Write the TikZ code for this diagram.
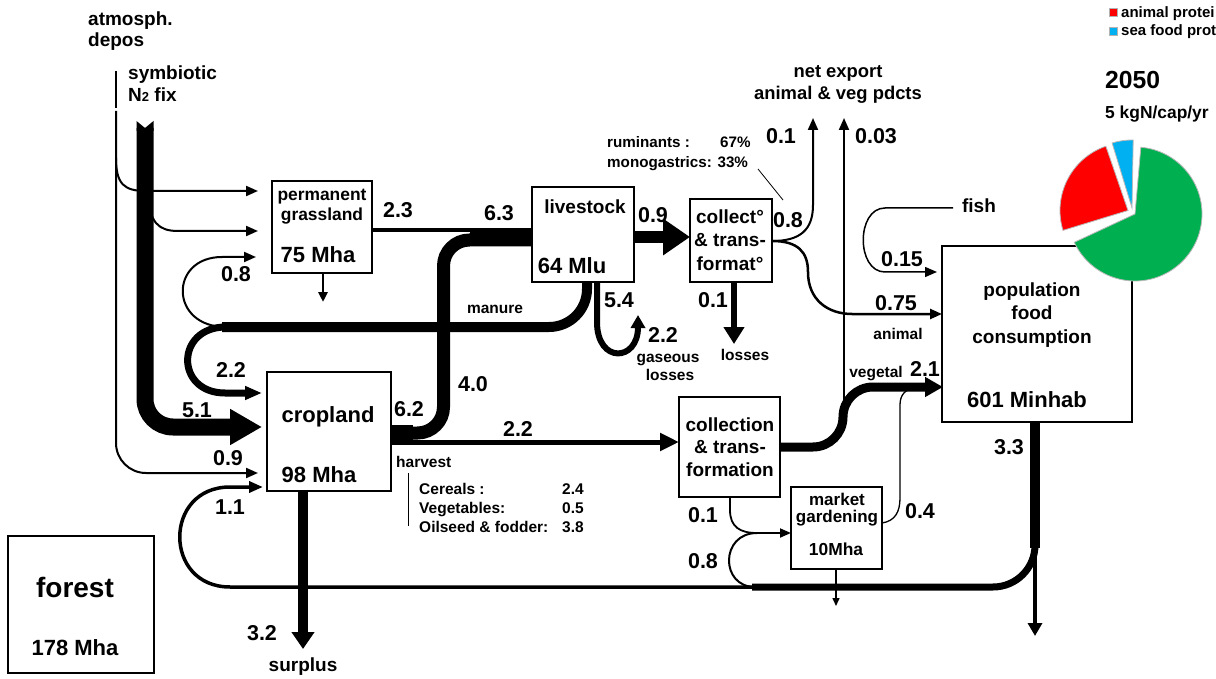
\documentclass[tikz,border=0pt]{standalone}
\usepackage{fontspec}
\setmainfont{Liberation Sans}
\usetikzlibrary{arrows.meta}
\newcommand\myNum{\fontsize{21.5}{24}\selectfont\bfseries}
\newcommand\myTxt{\fontsize{19}{21}\selectfont\bfseries}
\newcommand\myMid{\fontsize{17.4}{19}\selectfont\bfseries}
\newcommand\mySm{\fontsize{15.5}{18}\selectfont\bfseries}
\newcommand\myBig{\fontsize{22}{25}\selectfont\bfseries}
\definecolor{pieG}{RGB}{0,176,80}
\definecolor{pieR}{RGB}{255,0,0}
\definecolor{pieB}{RGB}{0,176,240}
\begin{document}
\begin{tikzpicture}[x=1pt,y=-1pt,
  boxnode/.style={draw, line width=2.2pt, fill=white, inner sep=0pt, outer sep=0pt},
  numlbl/.style={font=\myNum, inner sep=0pt, anchor=base},
  txtlbl/.style={font=\myTxt, inner sep=0pt, anchor=base},
  midlbl/.style={font=\myMid, inner sep=0pt, anchor=base},
  smlbl/.style={font=\mySm, inner sep=0pt, anchor=base},
  biglbl/.style={font=\myBig, inner sep=0pt, anchor=base},
  thinln/.style={line width=2pt},
  arrS/.style={-{Triangle[length=12pt,width=10pt]}},
]
\useasboundingbox (0,0) rectangle (1216,679);
\clip (0,0) rectangle (1216,679);

% ---------- named points ----------
\coordinate (atmTop) at (116,71);
\coordinate (atmBrk) at (116,108);
\coordinate (atmStart) at (116,111);
\coordinate (grIn1) at (258,191);
\coordinate (grIn2) at (258,231);
\coordinate (crIn09) at (258,473);
\coordinate (exp1) at (813,118);
\coordinate (exp2) at (844,118);
\coordinate (fishEnd) at (953,208);

% ---------- connectors ----------
% atmospheric deposition
\draw[thinln] (atmTop) -- (atmBrk);
\draw[thinln, arrS, rounded corners=30pt] (atmStart) -- (116,473) -- (crIn09);
\draw[thinln, arrS] (116,158) .. controls (116,184) and (124,191) .. (146,191) -- (grIn1);
% symbiotic branch to grassland
\draw[thinln, arrS] (148,196) .. controls (150,222) and (158,231) .. (178,231) -- (grIn2);
% symbiotic main band -> cropland 5.1
\draw[line width=17pt, rounded corners=28pt, -{Triangle[length=32pt,width=34pt]}] (145,128) -- (145,427) -- (262,427);
\fill (136.5,121) -- (145,128) -- (153.5,121) -- (153.5,131) -- (136.5,131) -- cycle;

% grassland -> livestock 2.3
\draw[line width=4.5pt] (372,230) -- (532,230);
% cropland -> livestock 4.0
\draw[line width=13pt, rounded corners=26pt] (391,433) -- (443.5,433) -- (443.5,240) -- (532,240);
\fill (391,425) rectangle (413,445);
\fill (470,228) rectangle (532,246.5);
% cropland -> collection 2.2
\draw[line width=5pt, -{Triangle[length=19pt,width=17pt]}] (400,442) -- (679,442);

% manure
\draw[line width=10pt, rounded corners=38pt] (587,282) -- (587,327) -- (222,327);
\draw[line width=7pt, -{Triangle[length=17pt,width=13pt]}] (226,327) .. controls (175,327) and (175,393) .. (225,393) -- (262,393);
\draw[thinln, arrS] (226,327) .. controls (169,327) and (169,257) .. (222,257) -- (256,257);

% livestock -> collect 0.9
\draw[line width=12pt, -{Triangle[length=27pt,width=35pt]}] (634,237) -- (690,237);
% gaseous losses loop
\draw[line width=6pt, -{Triangle[length=13pt,width=14pt]}] (597,282) -- (597,322) .. controls (597,364) and (638,362) .. (638,315);
% collect -> losses
\draw[line width=6pt, -{Triangle[length=17pt,width=20pt]}] (734,282) -- (734,344);
% collect split
\draw[thinln, arrS] (772,241) .. controls (800,241) and (813,230) .. (813,205) -- (exp1);
\draw[line width=2.5pt, arrS] (772,241) .. controls (798,241) and (808,252) .. (808,272) .. controls (808,300) and (828,314) .. (852,314) -- (942,314);
% 0.03 export
\draw[thinln, arrS] (844,410) -- (exp2);
% fish
\draw[line width=1.5pt, arrS] (fishEnd) -- (885,208) .. controls (856,208) and (856,272) .. (885,272) -- (937,272);
% vegetal
\draw[line width=9pt, rounded corners=30pt, -{Triangle[length=18pt,width=19pt]}] (780,447) -- (843,447) -- (843,387) -- (943,387);
% market gardening 0.4
\draw[line width=1.3pt] (882,523) .. controls (895,521) and (900,512) .. (900,498) -- (900,405) .. controls (900,395) and (905,388) .. (918,388);
% collection -> market gardening 0.1
\draw[line width=1.8pt, -{Triangle[length=11pt,width=9pt]}] (730,497) -- (730,510) .. controls (730,527) and (740,533) .. (757,533) -- (791,533);
% 0.8 loop to market gardening
\draw[line width=2pt] (755,587) .. controls (720,587) and (720,533) .. (757,533);
% market gardening down
\draw[line width=1.5pt, -{Triangle[length=8pt,width=7pt]}] (836,569) -- (836,606);
% population outputs
\draw[line width=4pt, -{Triangle[length=13pt,width=14pt]}] (1035,540) -- (1035,636);
\draw[line width=7pt, rounded corners=42pt] (1035,500) -- (1035,587) -- (752,587);
\draw[line width=10pt] (1035,422) -- (1035,548);
\draw[line width=3.5pt, -{Triangle[length=14pt,width=11pt]}] (756,587) -- (230,587) .. controls (163,587) and (163,487) .. (230,487) -- (263,487);
% cropland surplus
\draw[line width=10pt, -{Triangle[length=17pt,width=22pt]}] (303,491) -- (303,649);
% grassland down
\draw[line width=2.5pt, -{Triangle[length=10pt,width=9pt]}] (323,273) -- (323,302);
% pointer lines
\draw[line width=0.8pt] (758,169) -- (783,200);
\draw[line width=0.8pt] (408,473) -- (408,526);

% ---------- boxes ----------
\node[boxnode, minimum width=100pt, minimum height=92pt] (grass) at (322,227) {};
\node[boxnode, minimum width=124pt, minimum height=119pt] (crop) at (329,431.5) {};
\node[boxnode, minimum width=102pt, minimum height=95pt] (live) at (583,234.5) {};
\node[boxnode, minimum width=82pt, minimum height=83pt] (collA) at (731,240.5) {};
\node[boxnode, minimum width=101pt, minimum height=100pt] (collB) at (729.5,447) {};
\node[boxnode, minimum width=91pt, minimum height=82pt] (market) at (836.5,528) {};
\node[boxnode, minimum width=190pt, minimum height=176pt] (pop) at (1037,334) {};
\node[boxnode, line width=2.6pt, minimum width=146pt, minimum height=137pt] (forest) at (81,604.5) {};

% ---------- pie ----------
\begin{scope}[shift={(1135,214)}, yscale=-1]
  \filldraw[fill=pieG, draw=gray!55, line width=0.8pt] (0,0) -- (85:67) arc[start angle=85, end angle=-155, radius=67] -- cycle;
  \filldraw[fill=pieB, draw=gray!55, line width=0.8pt, shift={(-3,6)}] (0,0) -- (89:68) arc[start angle=89, end angle=107, radius=68] -- cycle;
  \filldraw[fill=pieR, draw=gray!55, line width=0.8pt, shift={(-7,3.5)}] (0,0) -- (109:68) arc[start angle=109, end angle=197, radius=68] -- cycle;
\end{scope}
% legend
\filldraw[fill=pieR, draw=gray!60, line width=0.5pt] (1109,8.5) rectangle (1117,16.5);
\filldraw[fill=pieB, draw=gray!60, line width=0.5pt] (1109,27) rectangle (1117,35);
\node[smlbl, anchor=base west, font=\fontsize{15}{17}\selectfont\bfseries] (legA) at (1121,18) {animal protei};
\node[smlbl, anchor=base west, font=\fontsize{15}{17}\selectfont\bfseries] (legB) at (1121,36) {sea food prot};
\node[anchor=base west, inner sep=0pt, font=\fontsize{24.7}{27}\selectfont\bfseries] (yr) at (1105,89) {2050};
\node[midlbl, anchor=base west] (kgn) at (1105,119) {5 kgN/cap/yr};

% ---------- box texts ----------
\node[midlbl] (tPerm) at (322,201) {permanent};
\node[midlbl] (tGrass) at (322,221) {grassland};
\node[biglbl] (tGrassHa) at (318,263) {75 Mha};
\node[biglbl] (tCrop) at (328,422) {cropland};
\node[biglbl] (tCropHa) at (319,482) {98 Mha};
\node[txtlbl] (tLive) at (585,214) {livestock};
\node[biglbl] (tLiveN) at (572,273) {64 Mlu};
\node[txtlbl] (tCA1) at (730,224) {collect°};
\node[txtlbl] (tCA2) at (730,247) {\& trans-};
\node[txtlbl] (tCA3) at (730,270) {format°};
\node[txtlbl] (tCB1) at (730,431) {collection};
\node[txtlbl] (tCB2) at (730,453) {\& trans-};
\node[txtlbl] (tCB3) at (730,476) {formation};
\node[midlbl, font=\fontsize{17}{19}\selectfont\bfseries] (tM1) at (837,505) {market};
\node[midlbl, font=\fontsize{17}{19}\selectfont\bfseries] (tM2) at (837,522) {gardening};
\node[midlbl] (tM3) at (836,555) {10Mha};
\node[txtlbl] (tP1) at (1032,296) {population};
\node[txtlbl] (tP2) at (1032,319) {food};
\node[txtlbl] (tP3) at (1032,343) {consumption};
\node[biglbl] (tP4) at (1027,407) {601 Minhab};
\node[inner sep=0pt, anchor=base, font=\fontsize{28}{30}\selectfont\bfseries] (tF1) at (75,597) {forest};
\node[biglbl] (tF2) at (75,655) {178 Mha};

% ---------- free texts ----------
\node[txtlbl, anchor=base west] (tAtm1) at (88,26) {atmosph.};
\node[txtlbl, anchor=base west] (tAtm2) at (88,47) {depos};
\node[txtlbl, anchor=base west] (tSym1) at (128,80) {symbiotic};
\node[txtlbl, anchor=base west] (tSym2) at (128,102) {N{\fontsize{13}{13}\selectfont 2} fix};
\node[midlbl, font=\fontsize{18.4}{20}\selectfont\bfseries] (tExp1) at (838,78) {net export};
\node[midlbl, font=\fontsize{18.4}{20}\selectfont\bfseries] (tExp2) at (838,100) {animal \& veg pdcts};
\node[txtlbl] (tFish) at (979,213) {fish};
\node[txtlbl] (tSurp) at (303,671) {surplus};
\node[smlbl] (tManure) at (495,313) {manure};
\node[smlbl] (tGas1) at (668,362) {gaseous};
\node[smlbl] (tGas2) at (670,380) {losses};
\node[smlbl] (tLoss) at (745,360) {losses};
\node[smlbl] (tAnim) at (898,339) {animal};
\node[smlbl] (tVeg) at (876,377) {vegetal};
\node[smlbl, anchor=base west, font=\fontsize{15.2}{17}\selectfont\bfseries] (tRum1) at (607,148) {ruminants :};
\node[smlbl, anchor=base west, font=\fontsize{15.2}{17}\selectfont\bfseries] (tRum2) at (720,148) {67\%};
\node[smlbl, anchor=base west, font=\fontsize{15.2}{17}\selectfont\bfseries] (tRum3) at (607,168) {monogastrics: 33\%};
\node[smlbl, anchor=base west] (tHarv) at (396,467) {harvest};
\node[smlbl, anchor=base west] (tH1) at (419,494) {Cereals :};
\node[smlbl, anchor=base west] (tH2) at (419,513) {Vegetables:};
\node[smlbl, anchor=base west] (tH3) at (419,532) {Oilseed \& fodder:};
\node[smlbl, anchor=base west] (tH1v) at (562,494) {2.4};
\node[smlbl, anchor=base west] (tH2v) at (562,513) {0.5};
\node[smlbl, anchor=base west] (tH3v) at (562,532) {3.8};

% ---------- flow values ----------
\node[numlbl] (n23) at (398,218) {2.3};
\node[numlbl] (n63) at (499,221) {6.3};
\node[numlbl] (n62) at (409,416) {6.2};
\node[numlbl] (n40) at (473,391) {4.0};
\node[numlbl] (n22h) at (518,436) {2.2};
\node[numlbl] (n51) at (197,417) {5.1};
\node[numlbl] (n09a) at (228,465) {0.9};
\node[numlbl] (n22l) at (231,377) {2.2};
\node[numlbl] (n08l) at (236,282) {0.8};
\node[numlbl] (n11) at (230,514) {1.1};
\node[numlbl] (n32) at (262,640) {3.2};
\node[numlbl] (n54) at (619,308) {5.4};
\node[numlbl] (n22g) at (663,342) {2.2};
\node[numlbl] (n01c) at (713,308) {0.1};
\node[numlbl] (n09b) at (653,223) {0.9};
\node[numlbl] (n08c) at (788,228) {0.8};
\node[numlbl] (n01t) at (781,144) {0.1};
\node[numlbl] (n003) at (876,144) {0.03};
\node[numlbl] (n015) at (902,267) {0.15};
\node[numlbl] (n075) at (896,310) {0.75};
\node[numlbl] (n21) at (925,376) {2.1};
\node[numlbl] (n33) at (1009,454) {3.3};
\node[numlbl] (n04) at (920,518) {0.4};
\node[numlbl] (n01m) at (703,522) {0.1};
\node[numlbl] (n08m) at (703,568) {0.8};
\end{tikzpicture}
\end{document}
